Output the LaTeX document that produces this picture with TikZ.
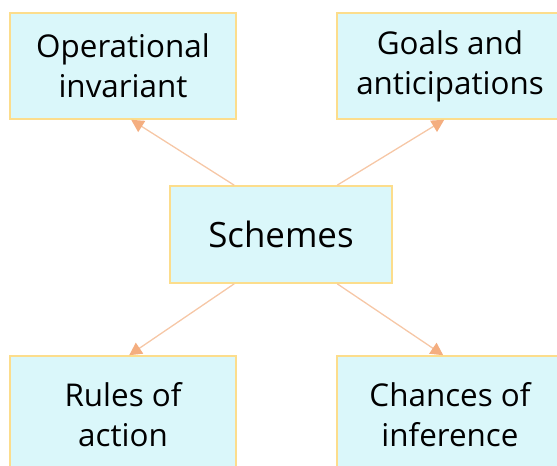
\documentclass[tikz,border=0pt]{standalone}
\usepackage{fontspec}
\setmainfont{Open Sans}
\usetikzlibrary{arrows.meta}
\definecolor{boxfill}{HTML}{DAF7FA}
\definecolor{boxline}{HTML}{FCDD8C}
\definecolor{arrline}{HTML}{F6C7A6}
\definecolor{arrtip}{HTML}{F4AE80}
\tikzset{
  box/.style={draw=boxline, line width=1.6bp, fill=boxfill, align=center,
    inner sep=0pt, font=\fontsize{31.5}{40}\selectfont, text=black},
  link/.style={draw=arrline, line width=1.3bp,
    -{Triangle[length=12.5bp,width=13bp,fill=arrtip,color=arrtip]}}
}
\begin{document}
\begin{tikzpicture}[x=1bp,y=-1bp]
\useasboundingbox (0,0) rectangle (557,466);
\clip (0,0) rectangle (557,466);
\node[box, minimum width=226bp, minimum height=106bp] (oi) at (123,66) {Operational\\invariant};
\node[box, minimum width=226bp, minimum height=106bp] (ga) at (450,66) {Goals and\\anticipations};
\node[box, minimum width=222bp, minimum height=97bp, font=\fontsize{35}{40}\selectfont] (sc) at (281,234.5) {Schemes};
\node[box, minimum width=226bp, minimum height=118bp] (ra) at (123,415) {Rules of\\action};
\node[box, minimum width=226bp, minimum height=118bp] (ci) at (450,415) {Chances of\\inference};
\draw[link] ([xshift=65bp]sc.north west) -- ([xshift=122bp]oi.south west);
\draw[link] ([xshift=168bp]sc.north west) -- ([xshift=108bp]ga.south west);
\draw[link] ([xshift=65bp]sc.south west) -- ([xshift=120bp]ra.north west);
\draw[link] ([xshift=168bp]sc.south west) -- ([xshift=107bp]ci.north west);
\end{tikzpicture}
\end{document}
